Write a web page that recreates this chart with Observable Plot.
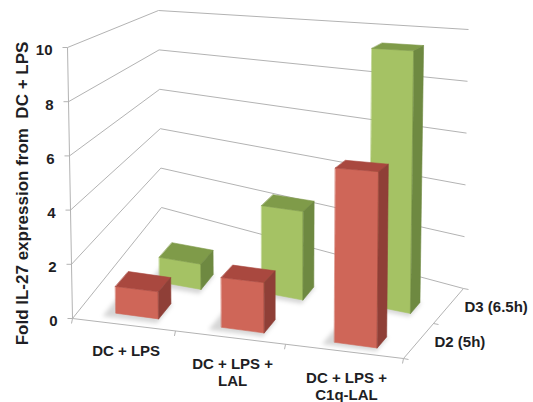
<!DOCTYPE html>
<html>
<head>
<meta charset="utf-8">
<script src="https://cdn.jsdelivr.net/npm/d3@7"></script>
<script src="https://cdn.jsdelivr.net/npm/@observablehq/plot@0.6"></script>
<style>
  html, body { margin: 0; padding: 0; background: #ffffff; }
  #chart { width: 533px; height: 402px; }
</style>
</head>
<body>
<div id="chart"></div>
<script>
// ---------------- data ----------------
const categories = ["DC + LPS", "DC + LPS +\nLAL", "DC + LPS +\nC1q-LAL"];
const series = ["D2 (5h)", "D3 (6.5h)"];
const seriesD2 = [1.0, 1.8, 6.1];
const seriesD3 = [1.0, 3.4, 9.7];
const yTicks = [0, 2, 4, 6, 8, 10];
const yTitle = "Fold IL-27 expression from  DC + LPS";

const values = [seriesD2, seriesD3];
const yMax = d3.max(yTicks);

// ------------- 3D frame (layout) -------------
const W = 533, H = 402;
// corners of the plot box: [x-position][depth][height]
const C = {
  p000: [72, 318], p100: [403, 358], p110: [463, 288], p010: [161, 207],
  p001: [67, 47],  p101: [406, 63],  p111: [468, 29],  p011: [158, 10]
};
const lerp = (a, b, u) => a + (b - a) * u;
function warpX(X) { const k = 0.903; return k * X / (1 + (k - 1) * X); }
function P(s, t, h) {
  const f = (i) => {
    const b0 = lerp(lerp(C.p000[i], C.p100[i], s), lerp(C.p010[i], C.p110[i], s), t);
    const b1 = lerp(lerp(C.p001[i], C.p101[i], s), lerp(C.p011[i], C.p111[i], s), t);
    return lerp(b0, b1, h);
  };
  return {x: f(0), y: f(1)};
}
const seg = (a, b) => ({x1: a.x, y1: a.y, x2: b.x, y2: b.y});

// gridlines & frame
const grid = [];
for (const v of yTicks) {
  const h = v / yMax;
  grid.push(seg(P(0, 0, h), P(0, 1, h)));
  grid.push(seg(P(0, 1, h), P(1, 1, h)));
}
grid.push(seg(P(0, 0, 0), P(1, 0, 0)));
grid.push(seg(P(1, 0, 0), P(1, 1, 0)));
grid.push(seg(P(0, 0, 0), P(0, 0, 1)));
// ticks
const ticks = [];
for (const v of yTicks) {
  const p = P(0, 0, v / yMax);
  ticks.push({x1: p.x - 5, y1: p.y, x2: p.x, y2: p.y});
}
for (let i = 0; i <= categories.length; i++) {
  const p = P(warpX(i / categories.length), 0, 0);
  ticks.push({x1: p.x, y1: p.y, x2: p.x - 1, y2: p.y + 5});
}
for (let j = 0; j <= series.length; j++) {
  const p = P(1, j / series.length, 0);
  ticks.push({x1: p.x, y1: p.y, x2: p.x + 5, y2: p.y + 1});
}

// bars
const colors = [
  {front: "#cf6658", top: "#a9483f", side: "#8f3f37"},
  {front: "#a5c264", top: "#7f9b49", side: "#6e8941"}
];
function barGeom(i, j) {
  const c = warpX((i + 0.5) / categories.length);
  const sc = c + 0.02 + j * 0.06 * (1 - c);
  const sL = sc - 0.065, sR = sc + 0.065;
  const tF = j === 0 ? 0.09 : 0.37 + 0.25 * sL;
  const tB = tF + 0.15;
  return {sL, sR, tF, tB};
}
const polyMarks = [];
const poly = (pts, fill, extra = {}) =>
  Plot.line(pts, {x: "x", y: "y", fill, stroke: fill, strokeWidth: 0.6, curve: "linear-closed", ...extra});

// shadows first
for (const j of [1, 0]) {
  for (let i = 0; i < categories.length; i++) {
    const {sL, sR, tF, tB} = barGeom(i, j);
    const pts = [P(sL - 0.03, tF - 0.04, 0), P(sR + 0.005, tF - 0.04, 0), P(sR + 0.005, tB, 0), P(sL - 0.03, tB, 0)];
    polyMarks.push(poly(pts, "#000", {fillOpacity: 0.16, strokeOpacity: 0, imageFilter: "blur(2px)"}));
  }
}
for (const j of [1, 0]) {
  for (let i = 0; i < categories.length; i++) {
    const {sL, sR, tF, tB} = barGeom(i, j);
    const h = values[j][i] / yMax;
    const col = colors[j];
    polyMarks.push(poly([P(sL, tF, 0), P(sR, tF, 0), P(sR, tF, h), P(sL, tF, h)], col.front));
    polyMarks.push(poly([P(sL, tF, h), P(sR, tF, h), P(sR, tB, h), P(sL, tB, h)], col.top));
    polyMarks.push(poly([P(sR, tF, 0), P(sR, tB, 0), P(sR, tB, h), P(sR, tF, h)], col.side));
  }
}

// labels
const tickLabels = yTicks.map(v => { const p = P(0, 0, v / yMax); return {x: p.x - 15, y: p.y + 3, text: String(v)}; });
const catLabels = categories.map((c, i) => { const p = P(warpX((i + 0.5) / categories.length), 0, 0); return {x: p.x + 3, y: p.y + 19.5, text: c}; });
const serLabels = series.map((s, j) => { const p = P(1, (j + 0.5) / series.length, 0); return {x: p.x + 16, y: p.y + 1, text: s}; });

const textColor = "#1e1e24";
const chart = Plot.plot({
  width: W, height: H, margin: 0,
  x: {domain: [0, W], axis: null},
  y: {domain: [H, 0], axis: null},
  style: {fontFamily: "'Liberation Sans', Arial, sans-serif", background: "#ffffff", overflow: "visible"},
  marks: [
    Plot.link(grid, {x1: "x1", y1: "y1", x2: "x2", y2: "y2", stroke: "#b3b3b3", strokeWidth: 1}),
    Plot.link(ticks, {x1: "x1", y1: "y1", x2: "x2", y2: "y2", stroke: "#b3b3b3", strokeWidth: 1}),
    ...polyMarks,
    Plot.text(tickLabels, {x: "x", y: "y", text: "text", textAnchor: "end", fontSize: 15, fontWeight: "bold", fill: textColor}),
    Plot.text(catLabels, {x: "x", y: "y", text: "text", lineAnchor: "top", lineHeight: 1.13, fontSize: 15, fontWeight: "bold", fill: textColor}),
    Plot.text(serLabels, {x: "x", y: "y", text: "text", textAnchor: "start", fontSize: 15, fontWeight: "bold", fill: textColor}),
    Plot.text([yTitle], {x: 22, y: 193, text: d => d, rotate: -90, fontSize: 17, fontWeight: "bold", fill: textColor})
  ]
});
document.getElementById("chart").appendChild(chart);
</script>
</body>
</html>
